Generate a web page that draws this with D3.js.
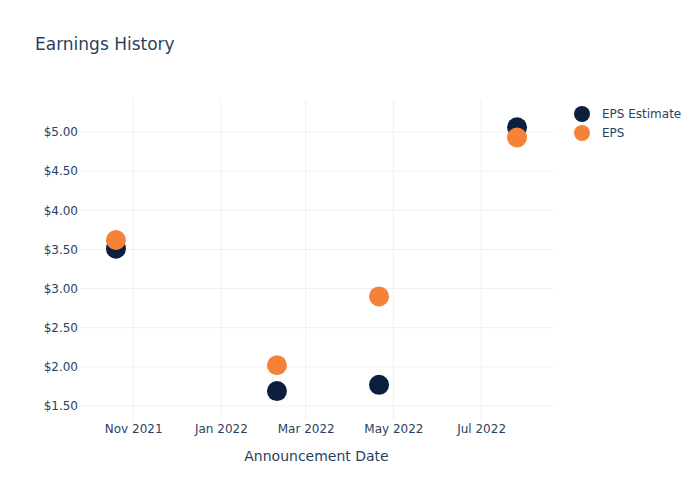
<!DOCTYPE html>
<html>
<head>
<meta charset="utf-8">
<script src="https://cdn.jsdelivr.net/npm/d3@7"></script>
<style>
  body { margin: 0; background: #fff; }
  text { font-family: "DejaVu Sans", sans-serif; fill: #2a3f5f; }
</style>
</head>
<body>
<div id="chart"></div>
<script>
// Data
var dates = ["2021-10-20", "2022-02-09", "2022-04-21", "2022-07-26"];
var epsEstimate = [3.51, 1.69, 1.77, 5.06];
var epsActual = [3.62, 2.02, 2.90, 4.93];
var seriesNames = ["EPS Estimate", "EPS"];
var seriesColors = ["#0d1f3f", "#f58236"];
var xTickDates = ["2021-11-01", "2022-01-01", "2022-03-01", "2022-05-01", "2022-07-01"];
var yTicks = [1.5, 2, 2.5, 3, 3.5, 4, 4.5, 5];

var width = 700, height = 500;
var margin = { left: 80, right: 147, top: 100, bottom: 80 };
var parse = d3.timeParse("%Y-%m-%d");

var svg = d3.select("#chart").append("svg")
  .attr("width", width)
  .attr("height", height);

var x = d3.scaleTime()
  .domain([parse("2021-09-25"), parse("2022-08-20")])
  .range([margin.left, width - margin.right]);

var y = d3.scaleLinear()
  .domain([1.321, 5.409])
  .range([height - margin.bottom, margin.top]);

// Gridlines
svg.append("g")
  .selectAll("line.xg")
  .data(xTickDates)
  .join("line")
  .attr("x1", function(d) { return x(parse(d)); })
  .attr("x2", function(d) { return x(parse(d)); })
  .attr("y1", margin.top)
  .attr("y2", height - margin.bottom)
  .style("stroke", "#ebf0f8")
  .style("stroke-width", 1);

svg.append("g")
  .selectAll("line.yg")
  .data(yTicks)
  .join("line")
  .attr("x1", margin.left)
  .attr("x2", width - margin.right)
  .attr("y1", function(d) { return y(d); })
  .attr("y2", function(d) { return y(d); })
  .style("stroke", "#ebf0f8")
  .style("stroke-width", 1);

// Axes (labels only, no domain line)
var xAxis = svg.append("g")
  .attr("transform", "translate(0," + (height - margin.bottom) + ")")
  .call(d3.axisBottom(x)
    .tickValues(xTickDates.map(parse))
    .tickFormat(d3.timeFormat("%b %Y"))
    .tickSize(0)
    .tickPadding(4));
xAxis.select(".domain").remove();
xAxis.selectAll("text").style("font-size", "12px").attr("fill", "#2a3f5f");

var yAxis = svg.append("g")
  .attr("transform", "translate(" + margin.left + ",0)")
  .call(d3.axisLeft(y)
    .tickValues(yTicks)
    .tickFormat(function(d) { return "$" + d.toFixed(2); })
    .tickSize(0)
    .tickPadding(2));
yAxis.select(".domain").remove();
yAxis.selectAll("text").style("font-size", "12px").attr("fill", "#2a3f5f");

// Points
var series = [epsEstimate, epsActual];
series.forEach(function(vals, s) {
  svg.append("g")
    .selectAll("circle")
    .data(vals)
    .join("circle")
    .attr("cx", function(d, i) { return x(parse(dates[i])); })
    .attr("cy", function(d) { return y(d); })
    .attr("r", 10)
    .style("fill", seriesColors[s]);
});

// Title
svg.append("text")
  .attr("x", 35)
  .attr("y", 50)
  .style("font-size", "17px")
  .text("Earnings History");

// X axis title
svg.append("text")
  .attr("x", (margin.left + width - margin.right) / 2)
  .attr("y", 461)
  .attr("text-anchor", "middle")
  .style("font-size", "14px")
  .text("Announcement Date");

// Legend
var legend = svg.append("g")
  .selectAll("g")
  .data(seriesNames)
  .join("g")
  .attr("transform", function(d, i) { return "translate(582," + (114 + i * 19) + ")"; });
legend.append("circle")
  .attr("r", 8)
  .style("fill", function(d, i) { return seriesColors[i]; });
legend.append("text")
  .attr("x", 20)
  .attr("dy", "0.35em")
  .style("font-size", "12px")
  .text(function(d) { return d; });
</script>
</body>
</html>
